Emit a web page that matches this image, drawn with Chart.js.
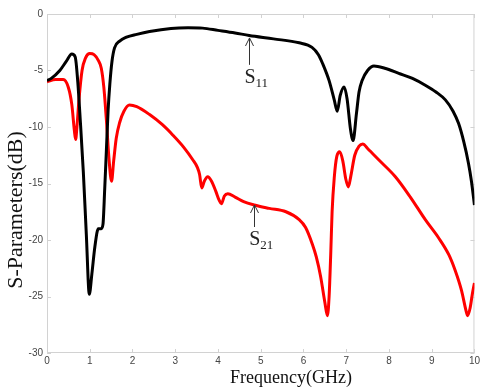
<!DOCTYPE html>
<html>
<head>
<meta charset="utf-8">
<script src="https://cdn.jsdelivr.net/npm/chart.js@4/dist/chart.umd.min.js"></script>
<style>
  html, body { margin: 0; padding: 0; background: #fff; }
  #wrap { width: 482px; height: 390px; }
</style>
</head>
<body>
<div id="wrap"><canvas id="sparamChart"></canvas></div>
<script>
// S11 (black)
const s11Freq = [0, 0.1, 0.3, 0.45, 0.58, 0.66, 0.72, 0.78, 0.85, 0.92, 0.99, 1.05, 1.12, 1.2, 1.27, 1.31, 1.35, 1.39, 1.43, 1.47,
    1.52, 1.58, 1.7, 1.86, 2.1, 2.4, 2.9, 3.3, 3.64, 4.0, 4.4, 4.73, 5.3, 5.9, 6.2, 6.35, 6.45, 6.6, 6.72, 6.79,
    6.86, 6.95, 7.02, 7.1, 7.16, 7.24, 7.3, 7.37, 7.5, 7.65, 7.9, 8.23, 8.55, 8.85, 9.1, 9.32, 9.5, 9.63, 9.75, 9.86, 9.93, 10];
const s11Values = [-5.9, -5.7, -5.0, -4.2, -3.55, -3.8, -6.0, -9.5, -14, -19.5, -24.8, -23, -20.6, -19.0, -19.0, -18.6, -15.5, -12, -8.5, -6.2,
    -4.2, -3.0, -2.4, -2.05, -1.8, -1.55, -1.28, -1.22, -1.25, -1.45, -1.68, -1.9, -2.2, -2.55, -2.95, -3.6, -4.4, -5.9, -7.6, -8.6,
    -7.2, -6.45, -7.5, -10.2, -11.2, -8.8, -6.9, -5.9, -5.0, -4.6, -4.8, -5.25, -5.7, -6.3, -6.9, -7.6, -8.6, -9.7, -11.3, -13.2, -14.8, -16.9];

// S21 (red)
const s21Freq = [0, 0.2, 0.38, 0.5, 0.58, 0.64, 0.67, 0.7, 0.75, 0.82, 0.9, 1.0, 1.1, 1.2, 1.27, 1.33, 1.39, 1.45, 1.51, 1.56,
    1.62, 1.7, 1.8, 1.93, 2.1, 2.4, 2.7, 2.94, 3.2, 3.41, 3.52, 3.57, 3.62, 3.68, 3.76, 3.85, 3.95, 4.03, 4.08, 4.15,
    4.23, 4.4, 4.6, 4.85, 5.2, 5.59, 5.9, 6.05, 6.21, 6.3, 6.4, 6.5, 6.56, 6.6, 6.64, 6.67, 6.72, 6.78, 6.85, 6.92,
    6.99, 7.05, 7.11, 7.2, 7.3, 7.39, 7.5, 7.76, 8.15, 8.5, 8.85, 9.16, 9.4, 9.55, 9.7, 9.8, 9.84, 9.9, 9.95, 10];
const s21Values = [-6.0, -5.8, -5.8, -6.5, -8.0, -10.3, -11.1, -10.0, -7.5, -5.0, -3.9, -3.5, -3.6, -4.1, -4.8, -6.5, -9.4, -12.8, -14.8, -13.0,
    -11.0, -9.6, -8.6, -8.05, -8.2, -8.9, -9.8, -10.7, -11.8, -12.9, -13.6, -14.2, -15.4, -14.8, -14.4, -14.8, -15.7, -16.5, -16.8, -16.1,
    -15.9, -16.2, -16.6, -16.9, -17.2, -17.5, -18.2, -18.9, -20.4, -21.5, -23.2, -25.5, -26.7, -25.0, -21, -17.5, -14.5, -12.6, -12.2, -13.0,
    -14.6, -15.3, -14.3, -12.5, -11.7, -11.5, -11.9, -12.9, -14.4, -16.2, -18.2, -19.8, -21.3, -22.7, -24.5, -26.2, -26.7, -26.0, -24.8, -23.8];

const xTicks = [0, 1, 2, 3, 4, 5, 6, 7, 8, 9, 10];
const yTicks = [0, -5, -10, -15, -20, -25, -30];

// arrow callouts: label, sub, arrow x, arrow tip, arrow tail, text x, text baseline (data units)
const callouts = [
    { main: 'S', sub: '11', x: 4.73, tip: -2.12, tail: -4.5, tx: 4.62, ty: -6.1 },
    { main: 'S', sub: '21', x: 4.85, tip: -16.9, tail: -18.85, tx: 4.73, ty: -20.4 }
];

const toPoints = (xs, ys) => xs.map((x, i) => ({ x: x, y: ys[i] }));

const framePlugin = {
    id: 'frame',
    beforeDatasetsDraw(chart) {
        const { ctx, chartArea: a, scales } = chart;
        ctx.save();
        ctx.strokeStyle = '#d2d2d2';
        ctx.lineWidth = 1;
        ctx.strokeRect(a.left + 0.5, a.top + 0.5, a.right - a.left - 1, a.bottom - a.top - 1);
        ctx.beginPath();
        xTicks.forEach(v => {
            const px = Math.round(scales.x.getPixelForValue(v)) + 0.5;
            ctx.moveTo(px, a.top); ctx.lineTo(px, a.top + 4);
            ctx.moveTo(px, a.bottom); ctx.lineTo(px, a.bottom - 4);
        });
        yTicks.forEach(v => {
            const py = Math.round(scales.y.getPixelForValue(v)) + 0.5;
            ctx.moveTo(a.left, py); ctx.lineTo(a.left + 4, py);
            ctx.moveTo(a.right, py); ctx.lineTo(a.right - 4, py);
        });
        ctx.stroke();
        ctx.restore();
    },
    afterDraw(chart) {
        const { ctx, scales } = chart;
        ctx.save();
        // axis titles
        ctx.fillStyle = '#111';
        ctx.font = '18px "Liberation Serif"';
        ctx.textAlign = 'center';
        ctx.textBaseline = 'alphabetic';
        ctx.fillText('Frequency(GHz)', 291, 383);
        ctx.translate(22, 210);
        ctx.rotate(-Math.PI / 2);
        ctx.font = '22px "Liberation Serif"';
        ctx.fillText('S-Parameters(dB)', 0, 0);
        ctx.restore();

        ctx.save();
        callouts.forEach(c => {
            const x = Math.round(scales.x.getPixelForValue(c.x)) + 0.5;
            const tip = scales.y.getPixelForValue(c.tip);
            const tail = scales.y.getPixelForValue(c.tail);
            ctx.strokeStyle = '#333';
            ctx.lineWidth = 1;
            ctx.beginPath();
            ctx.moveTo(x, tail); ctx.lineTo(x, tip);
            ctx.moveTo(x - 4, tip + 8); ctx.lineTo(x, tip); ctx.lineTo(x + 4, tip + 8);
            ctx.stroke();
            const tx = scales.x.getPixelForValue(c.tx);
            const ty = scales.y.getPixelForValue(c.ty);
            ctx.fillStyle = '#222';
            ctx.textAlign = 'left';
            ctx.font = '20px "Liberation Serif"';
            ctx.fillText(c.main, tx, ty);
            const w = ctx.measureText(c.main).width;
            ctx.font = '13px "Liberation Serif"';
            ctx.fillText(c.sub, tx + w, ty + 4);
        });
        ctx.restore();
    }
};

const ctx = document.getElementById('sparamChart').getContext('2d');
const sparamChart = new Chart(ctx, {
    type: 'line',
    data: {
        datasets: [{
            label: 'S11',
            data: toPoints(s11Freq, s11Values),
            borderColor: '#000',
            borderWidth: 3,
            pointRadius: 0,
            cubicInterpolationMode: 'monotone',
            fill: false
        }, {
            label: 'S21',
            data: toPoints(s21Freq, s21Values),
            borderColor: '#ff0000',
            borderWidth: 3,
            pointRadius: 0,
            cubicInterpolationMode: 'monotone',
            fill: false
        }]
    },
    options: {
        animation: false,
        responsive: true,
        maintainAspectRatio: false,
        layout: { padding: { top: 14, right: 6, left: 0, bottom: 0 } },
        scales: {
            x: {
                type: 'linear',
                min: 0,
                max: 10,
                afterFit: s => { s.height = 37; },
                afterBuildTicks: s => { s.ticks = xTicks.map(v => ({ value: v })); },
                grid: { display: false, drawTicks: false },
                border: { display: false },
                ticks: {
                    padding: 2,
                    color: '#444',
                    font: { family: '"Liberation Sans"', size: 10 }
                }
            },
            y: {
                min: -30,
                max: 0,
                afterFit: s => { s.width = 47; },
                afterBuildTicks: s => { s.ticks = yTicks.map(v => ({ value: v })); },
                grid: { display: false, drawTicks: false },
                border: { display: false },
                ticks: {
                    padding: 4,
                    color: '#444',
                    font: { family: '"Liberation Sans"', size: 10 }
                }
            }
        },
        plugins: {
            legend: { display: false },
            tooltip: { enabled: false }
        }
    },
    plugins: [framePlugin]
});
</script>
</body>
</html>
